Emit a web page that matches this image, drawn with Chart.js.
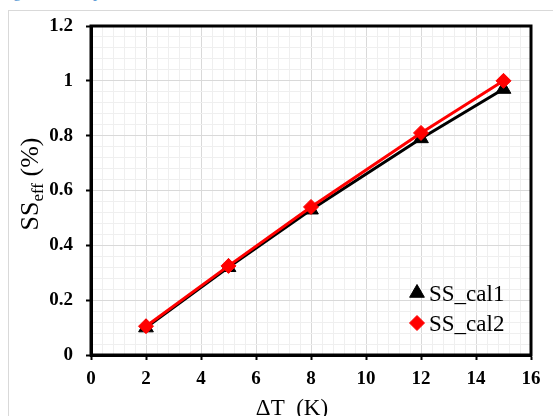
<!DOCTYPE html>
<html>
<head>
<meta charset="utf-8">
<script src="https://cdn.jsdelivr.net/npm/chart.js@4.4.1/dist/chart.umd.min.js"></script>
<style>
  html, body { margin: 0; padding: 0; background: #fff; overflow: hidden; }
  #wrap { position: relative; width: 553px; height: 416px; overflow: hidden; }
  #caption { position: absolute; left: 0; top: -17px; font: 16px "Liberation Serif", serif; color: #5b9bd5; white-space: nowrap; }
  #frame { position: absolute; left: 8px; top: 10px; width: 600px; height: 500px; border: 1px solid #d9d9d9; }
  canvas { position: absolute; left: 0; top: 0; }
</style>
</head>
<body>
<div id="wrap">
  <div id="caption">Figure 9. Comparison of the estimated SS effect with the calculated SS results.</div>
  <div id="frame"></div>
  <canvas id="ssChart" width="553" height="416"></canvas>
</div>
<script>
// temperature difference (K) and the two calculated SS_eff series (%)
const deltaT = [2, 5, 8, 12, 15];
const ssCal1 = [0.10, 0.32, 0.53, 0.79, 0.97];
const ssCal2 = [0.105, 0.325, 0.54, 0.81, 1.0];
const seriesNames = ['SS_cal1', 'SS_cal2'];

// axis ranges: labelled ticks every 2 K / 0.2 %, light minor grid in between
const xMax = 16, xMajor = 2, xMinor = 0.4;
const yMax = 1.2, yMajor = 0.2, yMinor = 0.04;

const serif = '"Liberation Serif", "Times New Roman", serif';

function isMajor(v, step) {
  const r = v / step;
  return Math.abs(r - Math.round(r)) < 1e-6;
}

function toPoints(xs, ys) {
  return xs.map((x, i) => ({ x: x, y: ys[i] }));
}

function gridFor(step) {
  return {
    color: (c) => (c.tick && isMajor(c.tick.value, step)) ? '#d9d9d9' : '#efefef',
    lineWidth: 1,
    tickLength: 5,
    tickWidth: 2,
    tickColor: (c) => (c.tick && isMajor(c.tick.value, step)) ? '#000' : 'rgba(0,0,0,0)'
  };
}

// box, axis titles and the legend inside the plot
const decor = {
  id: 'decor',
  afterDraw(chart) {
    const { ctx, chartArea: a } = chart;
    ctx.save();
    ctx.strokeStyle = '#000';
    ctx.lineWidth = 3;
    ctx.strokeRect(a.left, a.top, a.right - a.left, a.bottom - a.top);

    ctx.fillStyle = '#000';
    ctx.textBaseline = 'alphabetic';

    // x title
    ctx.font = '23px ' + serif;
    ctx.textAlign = 'center';
    ctx.fillText('\u0394T  (K)', 292, 415);

    // y title with subscript
    ctx.translate(38, 184);
    ctx.rotate(-Math.PI / 2);
    const big = '26px ' + serif, small = '17px ' + serif;
    ctx.font = big;
    const wSS = ctx.measureText('SS').width;
    const wRest = ctx.measureText(' (%)').width;
    ctx.font = small;
    const wSub = ctx.measureText('eff').width;
    let x = -(wSS + wSub + wRest) / 2;
    ctx.textAlign = 'left';
    ctx.font = big;
    ctx.fillText('SS', x, 0);
    x += wSS;
    ctx.font = small;
    ctx.fillText('eff', x, 5);
    x += wSub;
    ctx.font = big;
    ctx.fillText(' (%)', x, 0);
    ctx.restore();

    // legend
    ctx.save();
    const ds = chart.data.datasets;
    const legendOrder = [1, 0];
    legendOrder.forEach((di, row) => {
      const d = ds[di];
      const cy = 293 + row * 30;
      ctx.fillStyle = d.pointBackgroundColor;
      ctx.strokeStyle = d.pointBorderColor;
      Chart.helpers.drawPoint(ctx, {
        pointStyle: d.pointStyle, radius: d.pointRadius, rotation: 0, borderWidth: 1
      }, 417, cy);
      ctx.fillStyle = '#000';
      ctx.font = '23px ' + serif;
      ctx.textAlign = 'left';
      ctx.textBaseline = 'alphabetic';
      ctx.fillText(d.label, 429, cy + 8);
    });
    ctx.restore();
  }
};

const ctx = document.getElementById('ssChart').getContext('2d');
const ssChart = new Chart(ctx, {
  type: 'scatter',
  data: {
    datasets: [{
      // red series listed first so it is painted on top
      label: seriesNames[1],
      data: toPoints(deltaT, ssCal2),
      showLine: true,
      borderColor: '#ff0000',
      borderWidth: 3,
      pointStyle: 'rectRot',
      pointRadius: 7.5,
      pointBackgroundColor: '#ff0000',
      pointBorderColor: '#ff0000',
      pointBorderWidth: 1
    }, {
      label: seriesNames[0],
      data: toPoints(deltaT, ssCal1),
      showLine: true,
      borderColor: '#000000',
      borderWidth: 3,
      pointStyle: 'triangle',
      pointRadius: 8.5,
      pointBackgroundColor: '#000000',
      pointBorderColor: '#000000',
      pointBorderWidth: 1
    }]
  },
  options: {
    responsive: false,
    animation: false,
    layout: { padding: { top: 26, right: 22, left: 0, bottom: 0 } },
    plugins: {
      legend: { display: false },
      tooltip: { enabled: false }
    },
    scales: {
      x: {
        type: 'linear',
        min: 0,
        max: xMax,
        afterFit: (s) => { s.height = 61; },
        border: { display: true, color: '#000', width: 3 },
        grid: gridFor(xMajor),
        ticks: {
          stepSize: xMinor,
          autoSkip: false,
          maxRotation: 0,
          padding: 8,
          color: '#000',
          font: { family: serif, size: 19, weight: 'bold' },
          callback: (v) => isMajor(v, xMajor) ? String(Math.round(v)) : ''
        }
      },
      y: {
        min: 0,
        max: yMax,
        afterFit: (s) => { s.width = 91; },
        border: { display: true, color: '#000', width: 3 },
        grid: gridFor(yMajor),
        ticks: {
          stepSize: yMinor,
          autoSkip: false,
          padding: 13,
          color: '#000',
          font: { family: serif, size: 19, weight: 'bold' },
          callback: (v) => isMajor(v, yMajor) ? String(Math.round(v * 10) / 10) : ''
        }
      }
    }
  },
  plugins: [decor]
});
</script>
</body>
</html>
